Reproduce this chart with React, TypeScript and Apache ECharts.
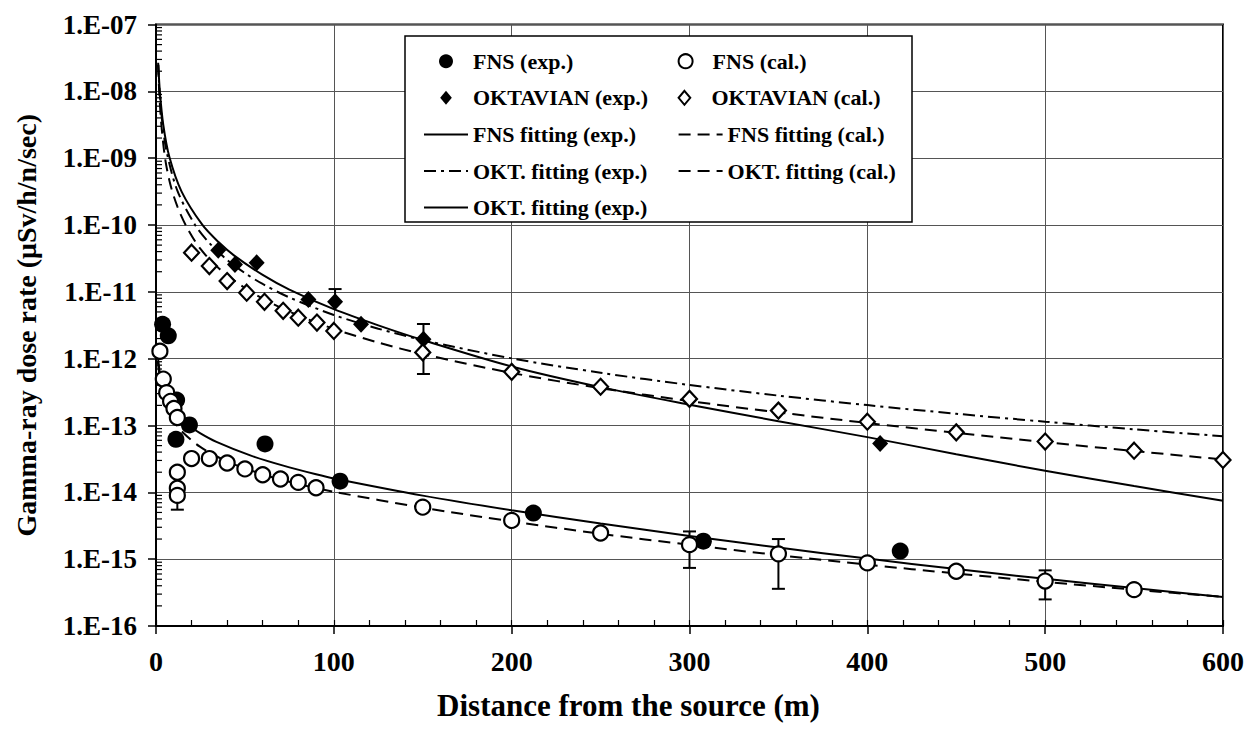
import { useEffect, useRef } from 'react';
import * as echarts from 'echarts';

// Measured dose rates (distance in m, dose in µSv/h/n/sec)
const fnsExpX = [3.7, 6.9, 11.6, 11.2, 18.8, 61.3, 103.5, 212.2, 307.8, 418.5];
const fnsExpY = [3.27e-12, 2.2e-12, 2.4e-13, 6.2e-14, 1.02e-13, 5.3e-14, 1.47e-14, 4.9e-15, 1.86e-15, 1.32e-15];

const fnsCalX = [2.2, 4.1, 6, 8.2, 10.1, 12, 12, 12, 12, 20, 30, 40, 50, 60, 70, 80, 90, 150, 200, 250, 300, 350, 400, 450, 500, 550];
const fnsCalY = [1.29e-12, 4.95e-13, 3.1e-13, 2.3e-13, 1.8e-13, 1.32e-13, 2.0e-14, 1.15e-14, 9.0e-15, 3.2e-14, 3.2e-14, 2.75e-14, 2.24e-14, 1.83e-14, 1.58e-14, 1.41e-14, 1.17e-14, 6.0e-15, 3.8e-15, 2.46e-15, 1.65e-15, 1.2e-15, 8.8e-16, 6.6e-16, 4.7e-16, 3.5e-16];

const oktExpX = [35, 44.4, 56.6, 85.7, 100.7, 115.3, 150.4, 407.2];
const oktExpY = [4.2e-11, 2.57e-11, 2.73e-11, 7.7e-12, 7.1e-12, 3.27e-12, 1.96e-12, 5.4e-14];

const oktCalX = [20, 30, 40, 51, 61, 71.5, 80, 90.5, 100, 150, 200, 250, 300, 350, 400, 450, 500, 550, 600];
const oktCalY = [3.85e-11, 2.43e-11, 1.45e-11, 9.7e-12, 7.1e-12, 5.2e-12, 4.1e-12, 3.47e-12, 2.6e-12, 1.24e-12, 6.35e-13, 3.8e-13, 2.5e-13, 1.67e-13, 1.14e-13, 7.9e-14, 5.75e-14, 4.2e-14, 3.05e-14];

// Error bars: distance, lower, upper
const errX = [12, 100.7, 150.4, 300, 350, 500];
const errLow = [5.5e-15, 7.1e-12, 5.9e-13, 7.4e-16, 3.6e-16, 2.5e-16];
const errHigh = [9.0e-15, 1.1e-11, 3.3e-12, 2.6e-15, 2.0e-15, 6.8e-16];

// Fitted curves, sampled along distance
const fnsFitExpX = [1, 3, 6, 10, 14, 18.2, 25, 34, 53, 71.6, 90, 100, 150, 200, 250, 300, 350, 400, 450, 500, 550, 600];
const fnsFitExpY = [1.09e-12, 4.54e-13, 2.59e-13, 1.69e-13, 1.27e-13, 1.01e-13, 7.62e-14, 5.69e-14, 3.57e-14, 2.51e-14, 1.86e-14, 1.61e-14, 8.93e-15, 5.4e-15, 3.42e-15, 2.23e-15, 1.49e-15, 1.02e-15, 7.11e-16, 5.08e-16, 3.69e-16, 2.72e-16];

const fnsFitCalX = [1, 3, 6, 10, 15, 24.7, 40, 60, 80, 100, 150, 200, 250, 300, 350, 400, 450, 500, 550, 600];
const fnsFitCalY = [9.25e-13, 3.52e-13, 1.88e-13, 1.17e-13, 7.94e-14, 4.82e-14, 2.9e-14, 1.86e-14, 1.33e-14, 1.02e-14, 5.9e-15, 3.67e-15, 2.4e-15, 1.64e-15, 1.15e-15, 8.28e-16, 6.1e-16, 4.58e-16, 3.5e-16, 2.72e-16];

const oktFitExpX = [1.2, 2, 3.5, 6, 12, 22, 30, 40, 50, 60, 75, 100, 125, 150, 200, 250, 300, 350, 400, 450, 500, 550, 600];
const oktFitExpY = [2.67e-8, 1.01e-8, 3.49e-9, 1.24e-9, 3.26e-10, 1.0e-10, 5.38e-11, 3.01e-11, 1.91e-11, 1.31e-11, 8.24e-12, 4.51e-12, 2.81e-12, 1.9e-12, 1.01e-12, 6.15e-13, 4.04e-13, 2.8e-13, 2.02e-13, 1.5e-13, 1.14e-13, 8.77e-14, 6.89e-14];

const oktFitCalX = [1.2, 1.8, 3, 5.1, 8, 12, 17.3, 25, 35, 50, 60, 75, 100, 125, 150, 200, 250, 300, 350, 400, 450, 500, 550, 600];
const oktFitCalY = [2.5e-8, 1.0e-8, 3.2e-9, 1.0e-9, 4.1e-10, 1.9e-10, 9.3e-11, 4.38e-11, 2.29e-11, 1.14e-11, 7.92e-12, 5.05e-12, 2.79e-12, 1.74e-12, 1.17e-12, 6.12e-13, 3.62e-13, 2.32e-13, 1.57e-13, 1.09e-13, 7.78e-14, 5.64e-14, 4.15e-14, 3.1e-14];

const oktFit2X = [1.3, 2.2, 4.1, 7.5, 14.4, 26, 35, 44, 60, 75, 100, 125, 150, 200, 250, 300, 350, 400, 450, 500, 550, 600];
const oktFit2Y = [2.5e-8, 9.7e-9, 3.16e-9, 1.05e-9, 3.16e-10, 1.01e-10, 5.6e-11, 3.48e-11, 1.79e-11, 1.08e-11, 5.5e-12, 3.15e-12, 1.9e-12, 7.65e-13, 3.75e-13, 2.05e-13, 1.16e-13, 6.7e-14, 3.72e-14, 2.1e-14, 1.24e-14, 7.5e-15];

// Axis ranges
const xMin = 0;
const xMax = 600;
const xStep = 100;
const xMinorStep = 20;
const yMin = 1e-16;
const yMax = 1e-7;
const minorMultipliers = [2, 3, 4, 5, 6, 7, 8, 9];

const FONT = "'Liberation Serif', 'Times New Roman', serif";
const INK = '#000';
const NONE = 'rgba(0,0,0,0)';
const DIAMOND = 'path://M5,0L10,6L5,12L0,6Z';

const pairs = (xs: number[], ys: number[]) => xs.map((x, i) => [x, ys[i]]);

const formatExp = (v: number) => {
  const e = Math.round(Math.log10(v));
  return '1.E' + (e < 0 ? '-' : '+') + String(Math.abs(e)).padStart(2, '0');
};

export default function App() {
  const ref = useRef<HTMLDivElement>(null);

  useEffect(() => {
    document.body.style.margin = '0';
    if (!ref.current) return;
    const chart = echarts.init(ref.current, undefined, { renderer: 'svg' });

    const yMinorTicks: number[][] = [];
    for (let e = Math.round(Math.log10(yMin)); e < Math.round(Math.log10(yMax)); e++) {
      minorMultipliers.forEach((m) => yMinorTicks.push([xMin, m * Math.pow(10, e)]));
    }

    const fitLine = (name: string, xs: number[], ys: number[], dash: any) => ({
      name,
      type: 'line',
      data: pairs(xs, ys),
      symbol: 'none',
      smooth: 0.3,
      z: 2,
      itemStyle: { color: NONE, borderWidth: 0 },
      lineStyle: { color: INK, width: 2, type: dash },
    });

    const dashed = [12, 7];
    const dashDot = [12, 5, 3, 5];

    chart.setOption({
      animation: false,
      backgroundColor: '#fff',
      textStyle: { fontFamily: FONT },
      grid: {
        left: 156,
        top: 24.5,
        width: 1067,
        height: 601.5,
        show: true,
        borderColor: INK,
        borderWidth: 2,
      },
      graphic: [
        {
          type: 'rect',
          z: 3,
          shape: { x: 405, y: 36, width: 507, height: 186 },
          style: { fill: '#fff', stroke: INK, lineWidth: 1.5 },
        },
      ],
      legend: {
        z: 5,
        left: 423,
        top: 48.2,
        width: 500,
        padding: 0,
        itemWidth: 44,
        itemHeight: 14,
        itemGap: 10.6,
        symbolKeepAspect: true,
        formatter: (n: string) => n.trim(),
        textStyle: {
          fontFamily: FONT,
          fontWeight: 'bold',
          fontSize: 22,
          color: INK,
          width: 194,
          lineHeight: 26,
        },
        data: [
          { name: 'FNS (exp.)' },
          { name: 'FNS (cal.)' },
          { name: 'OKTAVIAN (exp.)', icon: DIAMOND },
          { name: 'OKTAVIAN (cal.)', icon: DIAMOND },
          { name: 'FNS fitting (exp.)' },
          { name: 'FNS fitting (cal.)' },
          { name: 'OKT. fitting (exp.)' },
          { name: 'OKT. fitting (cal.)' },
          { name: 'OKT. fitting (exp.) ' },
        ],
      },
      xAxis: [
        {
          type: 'value',
          min: xMin,
          max: xMax,
          interval: xStep,
          name: 'Distance from the source (m)',
          nameLocation: 'middle',
          nameGap: 64,
          nameTextStyle: {
            fontFamily: FONT,
            fontWeight: 'bold',
            fontSize: 31,
            color: INK,
            padding: [0, 122, 0, 0],
          },
          axisLine: { show: true, lineStyle: { color: INK, width: 2 } },
          axisTick: { show: true, inside: false, length: 8, lineStyle: { color: INK, width: 1.5 } },
          axisLabel: {
            margin: 21,
            fontFamily: FONT,
            fontWeight: 'bold',
            fontSize: 28,
            color: INK,
          },
          splitLine: { show: true, lineStyle: { color: '#555', width: 1 } },
        },
        {
          type: 'value',
          min: xMin,
          max: xMax,
          interval: xMinorStep,
          position: 'bottom',
          axisLine: { show: false },
          axisTick: { show: true, inside: true, length: 6, lineStyle: { color: INK, width: 1.2 } },
          axisLabel: { show: false },
          splitLine: { show: false },
        },
      ],
      yAxis: {
        type: 'log',
        logBase: 10,
        min: yMin,
        max: yMax,
        splitNumber: 9,
        name: 'Gamma-ray dose rate (μSv/h/n/sec)',
        nameLocation: 'middle',
        nameGap: 116,
        nameTextStyle: {
          fontFamily: FONT,
          fontWeight: 'bold',
          fontSize: 28,
          color: INK,
        },
        axisLine: { show: true, lineStyle: { color: INK, width: 2 } },
        axisTick: { show: true, inside: false, length: 8, lineStyle: { color: INK, width: 1.5 } },
        axisLabel: {
          margin: 19,
          fontFamily: FONT,
          fontWeight: 'bold',
          fontSize: 27,
          color: INK,
          formatter: formatExp,
        },
        splitLine: { show: true, lineStyle: { color: '#555', width: 1 } },
      },
      series: [
        {
          name: 'FNS (exp.)',
          type: 'scatter',
          data: pairs(fnsExpX, fnsExpY),
          symbol: 'circle',
          symbolSize: 17,
          z: 4,
          itemStyle: { color: INK, opacity: 1 },
        },
        {
          name: 'FNS (cal.)',
          type: 'scatter',
          data: pairs(fnsCalX, fnsCalY),
          symbol: 'circle',
          symbolSize: 15,
          z: 4,
          itemStyle: { color: '#fff', borderColor: INK, borderWidth: 2.2, opacity: 1 },
        },
        {
          name: 'OKTAVIAN (exp.)',
          type: 'scatter',
          data: pairs(oktExpX, oktExpY),
          symbol: 'diamond',
          symbolSize: [16, 17],
          z: 4,
          itemStyle: { color: INK, opacity: 1 },
        },
        {
          name: 'OKTAVIAN (cal.)',
          type: 'scatter',
          data: pairs(oktCalX, oktCalY),
          symbol: 'diamond',
          symbolSize: [15, 16],
          z: 4,
          itemStyle: { color: '#fff', borderColor: INK, borderWidth: 2.2, opacity: 1 },
        },
        fitLine('FNS fitting (exp.)', fnsFitExpX, fnsFitExpY, 'solid'),
        fitLine('FNS fitting (cal.)', fnsFitCalX, fnsFitCalY, dashed),
        fitLine('OKT. fitting (exp.)', oktFitExpX, oktFitExpY, dashDot),
        fitLine('OKT. fitting (cal.)', oktFitCalX, oktFitCalY, dashed),
        fitLine('OKT. fitting (exp.) ', oktFit2X, oktFit2Y, 'solid'),
        {
          name: 'error bars',
          type: 'custom',
          z: 3,
          silent: true,
          data: errX.map((x, i) => [x, errLow[i], errHigh[i]]),
          encode: { x: 0, y: [1, 2] },
          renderItem: (_p: any, api: any) => {
            const x = api.value(0);
            const lo = api.coord([x, api.value(1)]);
            const hi = api.coord([x, api.value(2)]);
            const w = 6.5;
            const st = { stroke: INK, lineWidth: 2 };
            return {
              type: 'group',
              children: [
                { type: 'line', shape: { x1: lo[0], y1: lo[1], x2: hi[0], y2: hi[1] }, style: st },
                { type: 'line', shape: { x1: lo[0] - w, y1: lo[1], x2: lo[0] + w, y2: lo[1] }, style: st },
                { type: 'line', shape: { x1: hi[0] - w, y1: hi[1], x2: hi[0] + w, y2: hi[1] }, style: st },
              ],
            };
          },
        },
        {
          name: 'minor ticks',
          type: 'custom',
          z: 3,
          silent: true,
          data: yMinorTicks,
          renderItem: (_p: any, api: any) => {
            const p = api.coord([api.value(0), api.value(1)]);
            return {
              type: 'line',
              shape: { x1: p[0], y1: p[1], x2: p[0] + 6, y2: p[1] },
              style: { stroke: INK, lineWidth: 1.2 },
            };
          },
        },
      ],
    });

    return () => chart.dispose();
  }, []);

  return <div ref={ref} style={{ width: 1256, height: 738 }} />;
}
